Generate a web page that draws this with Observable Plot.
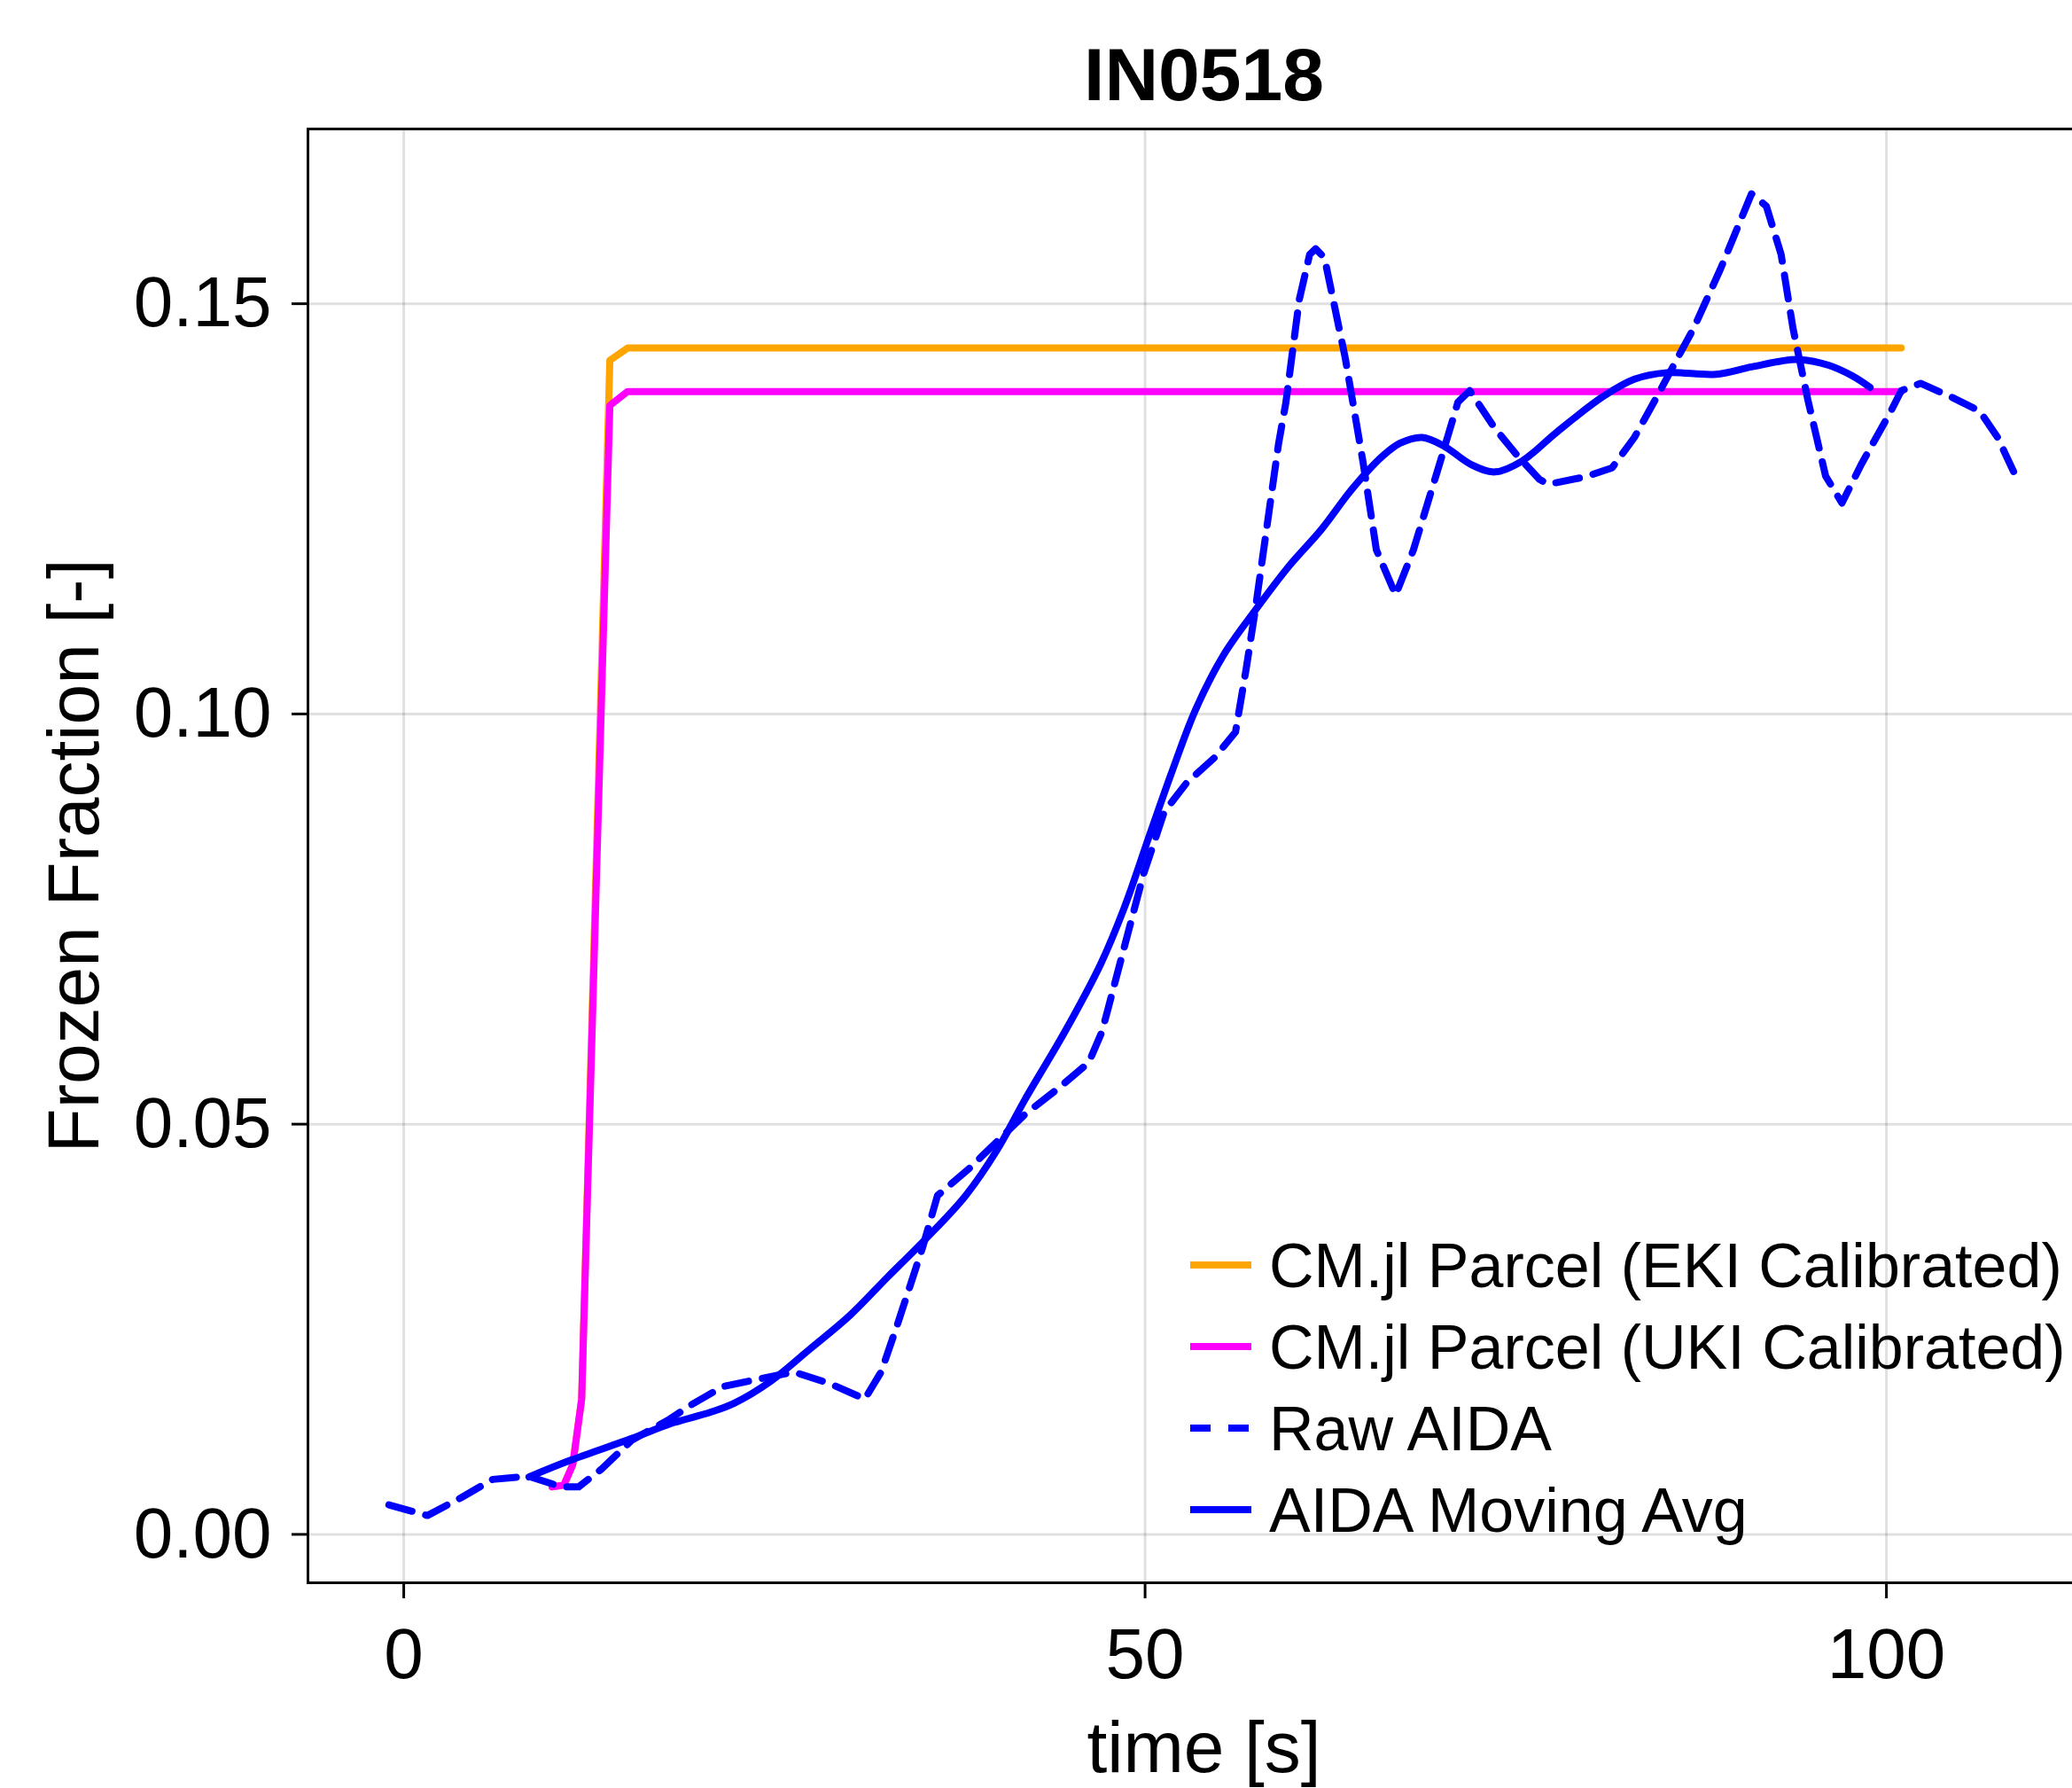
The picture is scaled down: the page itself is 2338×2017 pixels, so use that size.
<!DOCTYPE html>
<html><head><meta charset="utf-8">
<script src="https://cdn.jsdelivr.net/npm/d3@7"></script>
<script src="https://cdn.jsdelivr.net/npm/@observablehq/plot@0.6"></script>
<style>html,body{margin:0;padding:0;overflow:hidden;background:#fff;} svg{display:block;max-width:none !important;}</style>
</head><body><div id="chart"></div>
<script>
const title = "IN0518";
const xLabel = "time [s]";
const yLabel = "Frozen Fraction [-]";
const xTicks = [0, 50, 100];
const yTicks = [0, 0.05, 0.10, 0.15];
const xDomain = [-6.46, 114.4];
const yDomain = [-0.0059, 0.1713];

const seriesNames = ["CM.jl Parcel (EKI Calibrated)", "CM.jl Parcel (UKI Calibrated)", "Raw AIDA", "AIDA Moving Avg"];
const seriesColors = ["#FFA500", "#FF00FF", "#0000FF", "#0000FF"];
const seriesDashed = [false, false, true, false];

const ekiTime = [10.0, 10.8, 11.4, 12.0, 13.9, 15.1, 101.0];
const ekiFrac = [0.0058, 0.0060, 0.0085, 0.0165, 0.1431, 0.1446, 0.1446];

const ukiTime = [10.0, 10.8, 11.4, 12.0, 13.9, 15.1, 101.0];
const ukiFrac = [0.0058, 0.0060, 0.0085, 0.0165, 0.1376, 0.1393, 0.1393];

const rawTime = [-1.0, 1.6, 3.9, 6.0, 8.4, 10.6, 11.8, 13.3, 15.4, 17.8, 19.4, 21.5, 24.4, 26.3, 28.7, 31.1, 32.2, 33.3, 35.0, 36.0, 38.2, 39.0, 41.9, 44.1, 46.2, 47.1, 48.6, 49.9, 51.3, 52.8, 54.7, 56.1, 56.8, 57.4, 58.2, 59.0, 59.5, 60.4, 61.1, 61.5, 62.1, 63.5, 64.7, 65.6, 66.9, 68.1, 69.9, 71.1, 71.9, 73.6, 75.1, 76.6, 77.2, 79.7, 81.5, 83.0, 84.5, 85.8, 87.0, 88.8, 90.9, 91.9, 92.9, 93.7, 94.7, 95.9, 97.0, 98.3, 100.3, 101.0, 102.3, 104.3, 106.3, 107.5, 108.9];
const rawFrac = [0.0036, 0.0023, 0.0045, 0.0067, 0.0071, 0.0058, 0.0058, 0.0079, 0.0115, 0.0139, 0.0158, 0.0180, 0.0191, 0.0198, 0.0184, 0.0165, 0.0198, 0.0256, 0.0350, 0.0413, 0.0447, 0.0461, 0.0512, 0.0543, 0.0575, 0.0613, 0.0716, 0.0805, 0.0881, 0.0916, 0.0947, 0.0978, 0.1053, 0.1123, 0.1226, 0.1329, 0.1380, 0.1505, 0.1560, 0.1567, 0.1556, 0.1434, 0.1307, 0.1200, 0.1145, 0.1200, 0.1307, 0.1380, 0.1394, 0.1348, 0.1315, 0.1286, 0.1280, 0.1289, 0.1300, 0.1337, 0.1386, 0.1430, 0.1470, 0.1542, 0.1634, 0.1619, 0.1560, 0.1470, 0.1383, 0.1290, 0.1257, 0.1304, 0.1369, 0.1394, 0.1403, 0.1387, 0.1369, 0.1337, 0.1283];

const avgTime = [8.45, 11.2, 15.4, 18.0, 20.7, 22.3, 24.7, 27.4, 30.1, 32.6, 35.2, 37.9, 40.0, 41.9, 44.6, 47.0, 48.6, 50.2, 51.8, 53.4, 55.3, 57.5, 59.7, 61.9, 64.0, 66.0, 67.2, 68.7, 70.2, 72.0, 73.6, 75.4, 77.8, 80.9, 83.0, 85.2, 88.5, 90.9, 94.0, 96.1, 97.7, 98.9];
const avgFrac = [0.0070, 0.0090, 0.0117, 0.0135, 0.0149, 0.0160, 0.0186, 0.0226, 0.0267, 0.0313, 0.0360, 0.0413, 0.0468, 0.0530, 0.0613, 0.0695, 0.0764, 0.0847, 0.0929, 0.1005, 0.1072, 0.1128, 0.1180, 0.1225, 0.1275, 0.1314, 0.1330, 0.1337, 0.1326, 0.1304, 0.1295, 0.1308, 0.1344, 0.1387, 0.1408, 0.1416, 0.1414, 0.1423, 0.1432, 0.1425, 0.1412, 0.1398];

const toRows = (ts, vs) => ts.map((t, i) => ({t, v: vs[i]}));
const eki = toRows(ekiTime, ekiFrac);
const uki = toRows(ukiTime, ukiFrac);
const raw = toRows(rawTime, rawFrac);
const avg = toRows(avgTime, avgFrac);

const FONT = "'Liberation Sans', Arial, Helvetica, sans-serif";
const LW = 8;
const DASH = "27,16";

const chart = Plot.plot({
  width: 2420,
  height: 2017,
  marginLeft: 347,
  marginRight: 51,
  marginTop: 145,
  marginBottom: 232,
  style: {fontFamily: FONT, background: "white", overflow: "visible", maxWidth: "none"},
  x: {domain: xDomain},
  y: {domain: yDomain},
  marks: [
    Plot.gridX(xTicks, {stroke: "#000", strokeOpacity: 0.12, strokeWidth: 3}),
    Plot.gridY(yTicks, {stroke: "#000", strokeOpacity: 0.12, strokeWidth: 3}),
    Plot.line(eki, {x: "t", y: "v", stroke: seriesColors[0], strokeWidth: LW}),
    Plot.line(uki, {x: "t", y: "v", stroke: seriesColors[1], strokeWidth: LW}),
    Plot.line(raw, {x: "t", y: "v", stroke: seriesColors[2], strokeWidth: LW, strokeDasharray: DASH}),
    Plot.line(avg, {x: "t", y: "v", stroke: seriesColors[3], strokeWidth: LW, curve: "catmull-rom"}),
    Plot.frame({stroke: "black", strokeWidth: 3}),
    Plot.axisX(xTicks, {tickSize: 18, tickPadding: 33, fontSize: 80, strokeWidth: 3, tickFormat: d => String(d), label: null}),
    Plot.axisY(yTicks, {tickSize: 18, tickPadding: 23, fontSize: 80, strokeWidth: 3, tickFormat: d3.format(".2f"), label: null}),
    Plot.text([title], {text: d => d, frameAnchor: "top", dy: -33, lineAnchor: "bottom", textAnchor: "middle", fontSize: 84, fontWeight: "bold"}),
    Plot.text([xLabel], {text: d => d, frameAnchor: "bottom", dy: 213, lineAnchor: "bottom", textAnchor: "middle", fontSize: 82}),
    Plot.text([yLabel], {text: d => d, frameAnchor: "left", dx: -263, rotate: -90, lineAnchor: "middle", textAnchor: "middle", fontSize: 82})
  ]
});
document.getElementById("chart").appendChild(chart);

// legend (inside the plot area, lower right)
const svg = d3.select(chart);
const lg = svg.append("g").attr("font-family", FONT).attr("font-size", 70).attr("text-anchor", "start");
const legY0 = 1427, legStep = 92, swX1 = 1343, swX2 = 1412, txtX = 1432;
seriesNames.forEach((name, i) => {
  const cy = legY0 + i * legStep;
  lg.append("line")
    .attr("x1", swX1).attr("x2", swX2).attr("y1", cy).attr("y2", cy)
    .attr("stroke", seriesColors[i]).attr("stroke-width", LW)
    .attr("stroke-dasharray", seriesDashed[i] ? "23,20" : null);
  lg.append("text").attr("x", txtX).attr("y", cy + 25).attr("fill", "black").attr("text-anchor", "start").text(name);
});
</script></body></html>
